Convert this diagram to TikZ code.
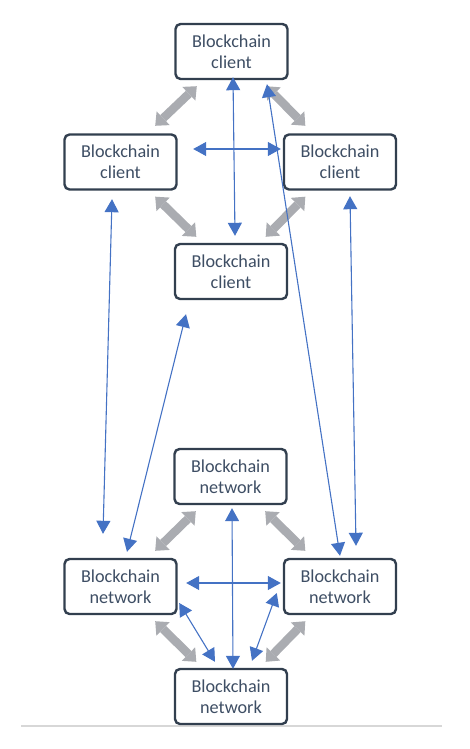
\documentclass[tikz,border=0pt]{standalone}
\usepackage{fontspec}
\setmainfont{Carlito}
\usetikzlibrary{arrows.meta,calc}
\definecolor{boxline}{RGB}{50,63,79}
\definecolor{boxtext}{RGB}{62,78,100}
\definecolor{linkblue}{RGB}{68,114,196}
\definecolor{linkgray}{RGB}{170,172,177}
\definecolor{rulegray}{RGB}{215,215,215}
\tikzset{
  chainbox/.style={draw=boxline, line width=2.4pt, rounded corners=5pt, fill=white,
    minimum width=112pt, minimum height=55pt, inner sep=0pt, align=center,
    text=boxtext, font=\fontsize{18.2}{20.6}\selectfont},
  bluelink/.style={draw=linkblue, line width=1.1pt,
    {Triangle[length=13pt,width=14pt]}-{Triangle[length=13pt,width=14pt]}},
  graylink/.style={draw=linkgray, line width=8.5pt,
    {Triangle[length=11pt,width=19pt,line width=0pt]}-{Triangle[length=11pt,width=19pt,line width=0pt]}},
}
\begin{document}
\begin{tikzpicture}[x=1pt,y=-1pt]
\useasboundingbox (0,0) rectangle (469,749);

% baseline rule under the lower group
\coordinate (ruleL) at (21,726);
\coordinate (ruleR) at (442,726);
\draw[rulegray, line width=1.4pt] (ruleL) -- (ruleR);

% clients
\node[chainbox] (T) at (231.5,51.5) {Blockchain\\client};
\node[chainbox] (L) at (120.5,162) {Blockchain\\client};
\node[chainbox] (R) at (340,162) {Blockchain\\client};
\node[chainbox] (M) at (231,271.5) {Blockchain\\client};

% networks
\node[chainbox] (NT) at (230.5,476.5) {Blockchain\\network};
\node[chainbox] (NL) at (120.5,586.5) {Blockchain\\network};
\node[chainbox] (NR) at (340,586.5) {Blockchain\\network};
\node[chainbox] (NB) at (231,696.5) {Blockchain\\network};

% thick gray links, client ring
\draw[graylink] ($(T.south west)+(22.5,6)$) -- ($(L.north east)+(-22.5,-7.5)$);
\draw[graylink] ($(T.south east)+(-22.5,6)$) -- ($(R.north west)+(22.5,-7.5)$);
\draw[graylink] ($(L.south east)+(-22.5,6)$) -- ($(M.north west)+(22.5,-6)$);
\draw[graylink] ($(R.south west)+(22.5,6)$) -- ($(M.north east)+(-22.5,-6)$);

% thick gray links, network ring
\draw[graylink] ($(NT.south west)+(22.5,6)$) -- ($(NL.north east)+(-22.5,-7)$);
\draw[graylink] ($(NT.south east)+(-22.5,6)$) -- ($(NR.north west)+(22.5,-7)$);
\draw[graylink] ($(NL.south east)+(-22.5,6)$) -- ($(NB.north west)+(22.5,-6)$);
\draw[graylink] ($(NR.south west)+(22.5,6)$) -- ($(NB.north east)+(-22.5,-6)$);

% blue links among clients
\draw[bluelink] ($(T.south)+(1.5,-3)$) -- ($(M.north)+(4,-7)$);
\draw[bluelink] ($(L.east)+(15.5,-13)$) -- ($(R.west)+(-2,-13)$);

% blue links from clients to networks
\draw[bluelink] ($(T.south)+(35.5,4)$) -- ($(NR.north)+(0,-2)$);
\draw[bluelink] ($(L.south)+(-8.5,8.5)$) -- ($(NL.north)+(-17.5,-24)$);
\draw[bluelink] ($(M.south)+(-45,14)$) -- ($(NL.north)+(6.5,-6)$);
\draw[bluelink] ($(R.south)+(10,5.5)$) -- ($(NR.north)+(16,-12)$);

% blue links among networks
\draw[bluelink] ($(NL.east)+(8.5,-3.5)$) -- ($(NR.west)+(-2,-3.5)$);
\draw[bluelink] ($(NT.south)+(1.5,3)$) -- ($(NB.north)+(2,1)$);
\draw[bluelink] ($(NL.east)+(1.5,16.5)$) -- ($(NB.north)+(-16,-6)$);
\draw[bluelink] ($(NR.west)+(-6,6.5)$) -- ($(NB.north)+(21,-7)$);
\end{tikzpicture}
\end{document}
